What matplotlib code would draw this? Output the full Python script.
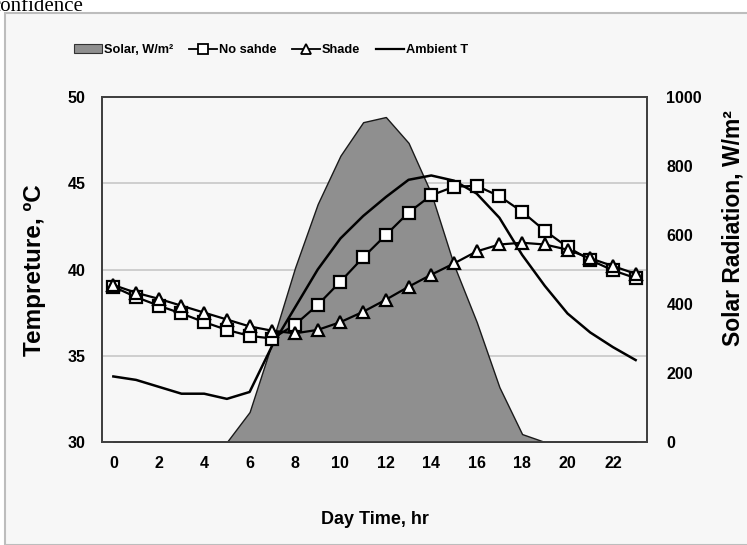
import matplotlib
matplotlib.use("Agg")
import matplotlib.pyplot as plt
from matplotlib.patches import Rectangle, Patch
from matplotlib.lines import Line2D

plt.rcParams['font.family'] = ['Liberation Sans Narrow', 'Liberation Sans', 'DejaVu Sans']
plt.rcParams['font.weight'] = 'bold'

hours = list(range(24))
solar = [0, 0, 0, 0, 0, 0, 87, 290, 505, 690, 830, 927, 942, 867, 720, 513,
         348, 159, 23, 0, 0, 0, 0, 0]
no_shade = [39.0, 38.4, 37.9, 37.45, 36.95, 36.5, 36.15, 36.0, 36.8, 37.95, 39.3, 40.7,
            42.0, 43.3, 44.3, 44.8, 44.85, 44.25, 43.35, 42.25, 41.3, 40.55, 39.95, 39.5]
shade = [39.1, 38.65, 38.3, 37.9, 37.5, 37.1, 36.7, 36.45, 36.3, 36.5, 36.95, 37.55,
         38.25, 39.0, 39.7, 40.35, 41.05, 41.45, 41.55, 41.45, 41.15, 40.65, 40.2, 39.75]
ambient = [33.8, 33.6, 33.2, 32.8, 32.8, 32.5, 32.9, 35.6, 37.8, 40.0, 41.8, 43.1,
           44.2, 45.2, 45.45, 45.15, 44.4, 43.0, 40.85, 39.05, 37.45, 36.35, 35.5, 34.75]
x_ticks = list(range(0, 23, 2))
t_ticks = [30, 35, 40, 45, 50]
s_ticks = [0, 200, 400, 600, 800, 1000]

W, H = 747, 545
fig = plt.figure(figsize=(W / 100, H / 100), dpi=100, facecolor='white')

# chart area background
fig.patches.append(Rectangle((5 / W, 0), 1.0, 1 - 13 / H, transform=fig.transFigure,
                             facecolor='#f7f7f7', edgecolor='#bdbdbd', lw=1.5, zorder=-5))
fig.text(-0.012, 1 - 11 / H, 'confidence', family='Liberation Serif', fontweight='normal',
         fontsize=15, va='baseline', ha='left')

rect = [102 / W, 1 - 442 / H, 545 / W, 345 / H]
ax1 = fig.add_axes(rect)
ax1.patch.set_visible(False)
ax1.set_zorder(1)
ax1.set_xlim(-0.5, 23.5)
ax1.set_ylim(30, 50)
ax1.set_yticks(t_ticks)
ax1.set_xticks(x_ticks)
ax1.yaxis.grid(True, color='#c8c8c8', lw=1.2)

# solar area on right axis
ax2 = ax1.twinx()
ax2.set_zorder(2)
ax2.patch.set_visible(False)
ax2.fill_between(hours, solar, 0, facecolor='#8f8f8f', edgecolor='#1a1a1a', lw=1.0)
ax2.set_ylim(0, 1000)
ax2.set_yticks(s_ticks)

# temperature lines on top
ax3 = fig.add_axes(rect, sharex=ax1, sharey=ax1)
ax3.set_zorder(3)
ax3.patch.set_visible(False)
ax3.axis('off')
ax3.plot(hours, ambient, color='black', lw=1.8)
ax3.plot(hours, no_shade, color='black', lw=1.6, marker='s', ms=8.5, mfc='white',
         mec='black', mew=1.6)
ax3.plot(hours, shade, color='black', lw=1.6, marker='^', ms=9, mfc='white',
         mec='black', mew=1.6)
ax3.set_xlim(-0.5, 23.5)
ax3.set_ylim(30, 50)

for ax in (ax1, ax2):
    for s in ax.spines.values():
        s.set_color('#404040')
        s.set_linewidth(1.3)
ax1.tick_params(axis='both', length=0, labelsize=11.5)
ax1.tick_params(axis='y', pad=12)
ax1.tick_params(axis='x', pad=10)
ax2.tick_params(axis='y', length=0, labelsize=11.5, pad=14)
for lab in ax1.get_xticklabels() + ax1.get_yticklabels() + ax2.get_yticklabels():
    lab.set_fontweight('bold')

fig.text(35 / W, 1 - 270 / H, 'Tempreture, ºC', rotation=90, ha='center', va='center',
         fontsize=17.5, fontweight='bold')
fig.text(733 / W, 1 - 228 / H, 'Solar Radiation, W/m²', rotation=90, ha='center', va='center',
         fontsize=16.5, fontweight='bold')
fig.text(375 / W, 1 - 520 / H, 'Day Time, hr', ha='center', va='center',
         fontsize=13, fontweight='bold')

handles = [
    Patch(facecolor='#8f8f8f', edgecolor='#333333', lw=0.8),
    Line2D([], [], color='black', lw=1.3, marker='s', ms=7, mfc='white', mec='black', mew=1.3),
    Line2D([], [], color='black', lw=1.3, marker='^', ms=7.5, mfc='white', mec='black', mew=1.3),
    Line2D([], [], color='black', lw=1.6),
]
labels = ['Solar, W/m²', 'No sahde', 'Shade', 'Ambient T']
fig.legend(handles, labels, loc='center', bbox_to_anchor=(271 / W, 1 - 50 / H), ncol=4,
           frameon=False, handlelength=2.2, handletextpad=0.15,
           columnspacing=1.2, prop={'weight': 'bold', 'size': 9.2})

fig.savefig('out.png', dpi=100, facecolor='white')
